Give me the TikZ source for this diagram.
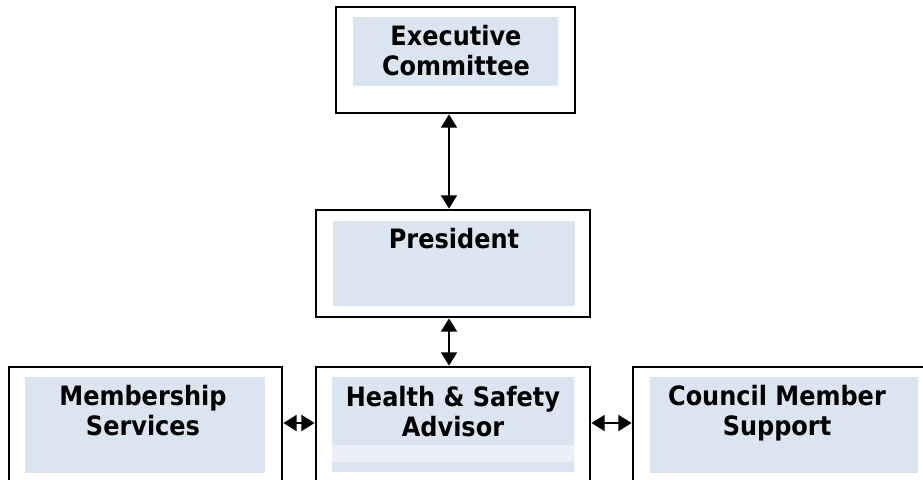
\documentclass[tikz,border=0pt]{standalone}
\usepackage{fontspec}
\setmainfont{DejaVu Sans Condensed}
\usetikzlibrary{arrows.meta}
\definecolor{innerblue}{HTML}{DBE5F1}
\definecolor{bandblue}{HTML}{EAEFF8}
\begin{document}
\begin{tikzpicture}[x=0.75pt,y=-0.75pt,
  outerbox/.style={draw=black,line width=2.1pt,fill=white,inner sep=0pt},
  innerbox/.style={fill=innerblue,inner sep=0pt},
  bandbox/.style={fill=bandblue,inner sep=0pt},
  lbl/.style={font=\fontsize{20}{22.5}\selectfont\bfseries,align=center,inner sep=0pt,anchor=base},
  arr/.style={line width=1.6pt,{Triangle[width=12pt,length=10pt]}-{Triangle[width=12pt,length=10pt]}}]
\useasboundingbox (0,0) rectangle (923,479);
\clip (0,0) rectangle (923,479);
% boxes
\node[outerbox,minimum width=179.25pt,minimum height=79.5pt] (exec) at (455.5,60) {};
\node[innerbox,minimum width=153.75pt,minimum height=51.75pt] (execin) at (455.5,51.5) {};
\node[outerbox,minimum width=205.5pt,minimum height=80.25pt] (pres) at (453,263.5) {};
\node[innerbox,minimum width=181.5pt,minimum height=63.75pt] (presin) at (454,263.5) {};
\node[outerbox,minimum width=204.75pt,minimum height=99.75pt] (mem) at (145.5,433.5) {};
\node[innerbox,minimum width=180pt,minimum height=72pt] (memin) at (145,425) {};
\node[outerbox,minimum width=205.5pt,minimum height=99.75pt] (hs) at (453,433.5) {};
\node[innerbox,minimum width=181.5pt,minimum height=71.25pt] (hsin) at (453,424.5) {};
\node[bandbox,minimum width=181.5pt,minimum height=12.75pt] (hsband) at (453,453.5) {};
\node[outerbox,minimum width=275.25pt,minimum height=99.75pt] (cms) at (816.5,433.5) {};
\node[innerbox,minimum width=201pt,minimum height=72pt] (cmsin) at (784,425) {};
% labels (base = baseline of last line)
\node[lbl] (execl) at (456,75) {Executive\\Committee};
\node[lbl] (presl) at (454,248) {President};
\node[lbl] (meml) at (143,435) {Membership\\Services};
\node[lbl] (hsl) at (453,436) {Health \& Safety\\Advisor};
\node[lbl] (cmsl) at (777,435) {Council Member\\Support};
% connectors
\coordinate (vaxis) at (449,0);
\coordinate (haxis) at (0,423);
\draw[arr] (exec.south -| vaxis) -- (pres.north -| vaxis);
\draw[arr] (pres.south -| vaxis) -- (hs.north -| vaxis);
\draw[arr] (mem.east |- haxis) -- (hs.west |- haxis);
\draw[arr] (hs.east |- haxis) -- (cms.west |- haxis);
\end{tikzpicture}
\end{document}
